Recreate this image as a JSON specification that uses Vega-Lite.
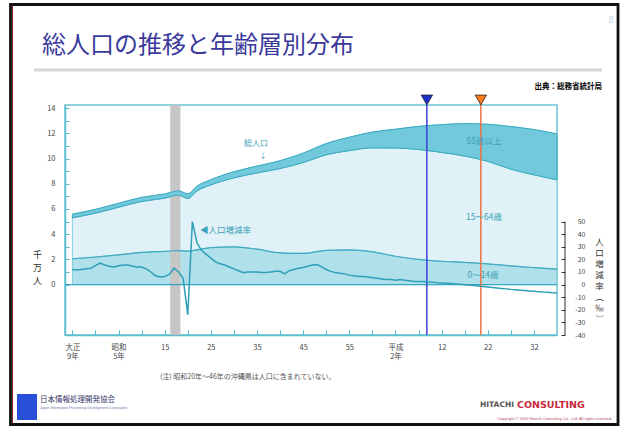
{
  "$schema": "https://vega.github.io/schema/vega-lite/v6.json",
  "width": 492,
  "height": 230,
  "autosize": {"type": "none"},
  "padding": {"left": 65, "top": 105, "right": 67, "bottom": 91},
  "background": "white",
  "config": {
    "font": "Noto Sans CJK JP",
    "view": {"stroke": "#6cc5d6", "strokeWidth": 1.5},
    "axis": {"labelOverlap": false, "labelBound": false, "zindex": 1}
  },
  "datasets": {
    "pop": [
      {"year": 1920, "group": "0～14歳", "value": 2.04}, {"year": 1920, "group": "15～64歳", "value": 3.26}, {"year": 1920, "group": "65歳以上", "value": 0.29},
      {"year": 1925, "group": "0～14歳", "value": 2.19}, {"year": 1925, "group": "15～64歳", "value": 3.48}, {"year": 1925, "group": "65歳以上", "value": 0.30},
      {"year": 1930, "group": "0～14歳", "value": 2.36}, {"year": 1930, "group": "15～64歳", "value": 3.78}, {"year": 1930, "group": "65歳以上", "value": 0.31},
      {"year": 1935, "group": "0～14歳", "value": 2.55}, {"year": 1935, "group": "15～64歳", "value": 4.05}, {"year": 1935, "group": "65歳以上", "value": 0.32},
      {"year": 1940, "group": "0～14歳", "value": 2.64}, {"year": 1940, "group": "15～64歳", "value": 4.22}, {"year": 1940, "group": "65歳以上", "value": 0.33},
      {"year": 1943, "group": "0～14歳", "value": 2.70}, {"year": 1943, "group": "15～64歳", "value": 4.40}, {"year": 1943, "group": "65歳以上", "value": 0.34},
      {"year": 1945, "group": "0～14歳", "value": 2.65}, {"year": 1945, "group": "15～64歳", "value": 4.18}, {"year": 1945, "group": "65歳以上", "value": 0.37},
      {"year": 1947, "group": "0～14歳", "value": 2.75}, {"year": 1947, "group": "15～64歳", "value": 4.68}, {"year": 1947, "group": "65歳以上", "value": 0.38},
      {"year": 1950, "group": "0～14歳", "value": 2.94}, {"year": 1950, "group": "15～64歳", "value": 4.97}, {"year": 1950, "group": "65歳以上", "value": 0.41},
      {"year": 1955, "group": "0～14歳", "value": 3.00}, {"year": 1955, "group": "15～64歳", "value": 5.47}, {"year": 1955, "group": "65歳以上", "value": 0.48},
      {"year": 1960, "group": "0～14歳", "value": 2.81}, {"year": 1960, "group": "15～64歳", "value": 6.05}, {"year": 1960, "group": "65歳以上", "value": 0.54},
      {"year": 1965, "group": "0～14歳", "value": 2.52}, {"year": 1965, "group": "15～64歳", "value": 6.69}, {"year": 1965, "group": "65歳以上", "value": 0.62},
      {"year": 1970, "group": "0～14歳", "value": 2.48}, {"year": 1970, "group": "15～64歳", "value": 7.21}, {"year": 1970, "group": "65歳以上", "value": 0.74},
      {"year": 1975, "group": "0～14歳", "value": 2.72}, {"year": 1975, "group": "15～64歳", "value": 7.58}, {"year": 1975, "group": "65歳以上", "value": 0.89},
      {"year": 1980, "group": "0～14歳", "value": 2.75}, {"year": 1980, "group": "15～64歳", "value": 7.88}, {"year": 1980, "group": "65歳以上", "value": 1.06},
      {"year": 1985, "group": "0～14歳", "value": 2.60}, {"year": 1985, "group": "15～64歳", "value": 8.25}, {"year": 1985, "group": "65歳以上", "value": 1.25},
      {"year": 1990, "group": "0～14歳", "value": 2.25}, {"year": 1990, "group": "15～64歳", "value": 8.59}, {"year": 1990, "group": "65歳以上", "value": 1.49},
      {"year": 1995, "group": "0～14歳", "value": 2.00}, {"year": 1995, "group": "15～64歳", "value": 8.72}, {"year": 1995, "group": "65歳以上", "value": 1.83},
      {"year": 2000, "group": "0～14歳", "value": 1.85}, {"year": 2000, "group": "15～64歳", "value": 8.64}, {"year": 2000, "group": "65歳以上", "value": 2.20},
      {"year": 2005, "group": "0～14歳", "value": 1.76}, {"year": 2005, "group": "15～64歳", "value": 8.44}, {"year": 2005, "group": "65歳以上", "value": 2.57},
      {"year": 2010, "group": "0～14歳", "value": 1.65}, {"year": 2010, "group": "15～64歳", "value": 8.13}, {"year": 2010, "group": "65歳以上", "value": 2.94},
      {"year": 2015, "group": "0～14歳", "value": 1.48}, {"year": 2015, "group": "15～64歳", "value": 7.68}, {"year": 2015, "group": "65歳以上", "value": 3.38},
      {"year": 2020, "group": "0～14歳", "value": 1.35}, {"year": 2020, "group": "15～64歳", "value": 7.36}, {"year": 2020, "group": "65歳以上", "value": 3.59},
      {"year": 2025, "group": "0～14歳", "value": 1.23}, {"year": 2025, "group": "15～64歳", "value": 7.08}, {"year": 2025, "group": "65歳以上", "value": 3.64}
    ],
    "rate": [
      {"year": 1920, "rate": 12}, {"year": 1921, "rate": 11.5}, {"year": 1922, "rate": 12}, {"year": 1923, "rate": 12.5}, {"year": 1924, "rate": 13},
      {"year": 1925, "rate": 15}, {"year": 1926, "rate": 17}, {"year": 1927, "rate": 15.5}, {"year": 1928, "rate": 14.5}, {"year": 1929, "rate": 14},
      {"year": 1930, "rate": 15}, {"year": 1931, "rate": 15.5}, {"year": 1932, "rate": 15.5}, {"year": 1933, "rate": 14.5}, {"year": 1934, "rate": 14},
      {"year": 1935, "rate": 14}, {"year": 1936, "rate": 12.5}, {"year": 1937, "rate": 10}, {"year": 1938, "rate": 7}, {"year": 1939, "rate": 6},
      {"year": 1940, "rate": 6.5}, {"year": 1941, "rate": 8}, {"year": 1942, "rate": 13}, {"year": 1943, "rate": 10}, {"year": 1944, "rate": 5},
      {"year": 1945, "rate": -24}, {"year": 1946, "rate": 50}, {"year": 1947, "rate": 33}, {"year": 1948, "rate": 27}, {"year": 1949, "rate": 24},
      {"year": 1950, "rate": 21}, {"year": 1951, "rate": 18}, {"year": 1952, "rate": 16.5}, {"year": 1953, "rate": 15.5}, {"year": 1954, "rate": 14},
      {"year": 1955, "rate": 12.5}, {"year": 1956, "rate": 11}, {"year": 1957, "rate": 9.5}, {"year": 1958, "rate": 10}, {"year": 1959, "rate": 10},
      {"year": 1960, "rate": 10}, {"year": 1961, "rate": 9.5}, {"year": 1962, "rate": 9.5}, {"year": 1963, "rate": 10}, {"year": 1964, "rate": 10.5},
      {"year": 1965, "rate": 10.5}, {"year": 1966, "rate": 8.5}, {"year": 1967, "rate": 11}, {"year": 1968, "rate": 12}, {"year": 1969, "rate": 13},
      {"year": 1970, "rate": 13.5}, {"year": 1971, "rate": 14.5}, {"year": 1972, "rate": 15.5}, {"year": 1973, "rate": 16}, {"year": 1974, "rate": 14},
      {"year": 1975, "rate": 12}, {"year": 1976, "rate": 10.5}, {"year": 1977, "rate": 9.5}, {"year": 1978, "rate": 9}, {"year": 1979, "rate": 8.5},
      {"year": 1980, "rate": 7.5}, {"year": 1981, "rate": 7}, {"year": 1982, "rate": 6.5}, {"year": 1983, "rate": 6.5}, {"year": 1984, "rate": 6},
      {"year": 1985, "rate": 5.5}, {"year": 1986, "rate": 5}, {"year": 1987, "rate": 4.5}, {"year": 1988, "rate": 4}, {"year": 1989, "rate": 4},
      {"year": 1990, "rate": 3.5}, {"year": 1991, "rate": 4}, {"year": 1992, "rate": 3.5}, {"year": 1993, "rate": 3}, {"year": 1994, "rate": 2.5},
      {"year": 1995, "rate": 2.5}, {"year": 1996, "rate": 2.5}, {"year": 1997, "rate": 2}, {"year": 1998, "rate": 1.8}, {"year": 1999, "rate": 1.5},
      {"year": 2000, "rate": 1.3}, {"year": 2001, "rate": 1.1}, {"year": 2002, "rate": 0.8}, {"year": 2003, "rate": 0.5}, {"year": 2004, "rate": 0.2},
      {"year": 2005, "rate": -0.1}, {"year": 2006, "rate": -0.4}, {"year": 2007, "rate": -0.7}, {"year": 2008, "rate": -1.1}, {"year": 2009, "rate": -1.5},
      {"year": 2010, "rate": -1.9}, {"year": 2011, "rate": -2.3}, {"year": 2012, "rate": -2.7}, {"year": 2013, "rate": -3.1}, {"year": 2014, "rate": -3.4},
      {"year": 2015, "rate": -3.8}, {"year": 2016, "rate": -4.1}, {"year": 2017, "rate": -4.4}, {"year": 2018, "rate": -4.7}, {"year": 2019, "rate": -5},
      {"year": 2020, "rate": -5.3}, {"year": 2021, "rate": -5.6}, {"year": 2022, "rate": -5.9}, {"year": 2023, "rate": -6.1}, {"year": 2024, "rate": -6.4},
      {"year": 2025, "rate": -6.6}
    ],
    "markers": [{"year": 1996.8, "id": "A"}, {"year": 2008.5, "id": "B"}],
    "war": [{"start": 1941.2, "end": 1943.4}]
  },
  "layer": [
    {
      "layer": [
        {
          "data": {"name": "pop"},
          "mark": {"type": "area", "interpolate": "monotone", "stroke": "#6cc5d6", "strokeWidth": 0.8},
          "encoding": {
            "x": {
              "field": "year", "type": "quantitative",
              "scale": {"domain": [1918.4, 2025], "nice": false, "zero": false},
              "axis": {
                "title": null,
                "values": [1920, 1925, 1930, 1935, 1940, 1945, 1950, 1955, 1960, 1965, 1970, 1975, 1980, 1985, 1990, 1995, 2000.001, 2005, 2010, 2015, 2020],
                "tickCount": 200,
                "labelExpr": "round(datum.value) == 1920 ? ['大正','9年'] : round(datum.value) == 1930 ? ['昭和','5年'] : round(datum.value) == 1940 ? '15' : round(datum.value) == 1950 ? '25' : round(datum.value) == 1960 ? '35' : round(datum.value) == 1970 ? '45' : round(datum.value) == 1980 ? '55' : round(datum.value) == 1990 ? ['平成','2年'] : round(datum.value) == 2000 ? '12' : round(datum.value) == 2010 ? '22' : round(datum.value) == 2020 ? '32' : ''",
                "labelFontSize": 7.5, "labelColor": "#444444", "labelLineHeight": 9.5, "labelPadding": 13, "labelBaseline": "top",
                "tickSize": -5, "tickColor": "#5bbdd0", "domainColor": "#5bbdd0", "domainWidth": 1.5,
                "grid": false, "labelOverlap": false, "labelFlush": false
              }
            },
            "y": {
              "field": "value", "type": "quantitative", "stack": "zero",
              "scale": {"domain": [-4, 14.25], "nice": false, "zero": false},
              "axis": {
                "title": ["千", "万", "人"],
                "values": [0, 1, 2, 3, 4, 5, 6, 7, 8, 9, 10, 11, 12, 13, 14],
                "tickCount": 200,
                "labelExpr": "datum.value % 2 == 0 ? '' + datum.value : ''",
                "tickSize": -4, "labelPadding": 14, "labelFontSize": 7.5, "labelColor": "#444444",
                "tickColor": "#5bbdd0", "domainColor": "#5bbdd0", "domainWidth": 1.5, "grid": false,
                "labelOverlap": false,
                "titleAngle": 0, "titleX": -28, "titleY": 145, "titleAlign": "center", "titleBaseline": "top",
                "titleFontSize": 9, "titleLineHeight": 13.3, "titleColor": "#333333", "titleFontWeight": "normal"
              }
            },
            "color": {
              "field": "group", "type": "nominal",
              "scale": {"domain": ["0～14歳", "15～64歳", "65歳以上"], "range": ["#b0e0ea", "#e0f2f7", "#77cbdc"]},
              "legend": null
            },
            "order": {"field": "group", "sort": "ascending"}
          }
        },
        {
          "data": {"name": "war"},
          "mark": {"type": "rect", "color": "#c6c6c6"},
          "encoding": {
            "x": {"field": "start", "type": "quantitative"},
            "x2": {"field": "end"}
          }
        },
        {
          "data": {"name": "pop"},
          "transform": [
            {"stack": "value", "groupby": ["year"], "sort": [{"field": "group", "order": "ascending"}], "as": ["lo", "hi"]},
            {"filter": "datum.group == '65歳以上'"}
          ],
          "mark": {"type": "area", "interpolate": "monotone", "fill": "#72c9db", "stroke": "#3aaac2", "strokeWidth": 1},
          "encoding": {
            "x": {"field": "year", "type": "quantitative"},
            "y": {"field": "lo", "type": "quantitative"},
            "y2": {"field": "hi"}
          }
        },
        {
          "data": {"name": "pop"},
          "transform": [{"filter": "datum.group == '0～14歳'"}],
          "mark": {"type": "line", "interpolate": "monotone", "color": "#3faac2", "strokeWidth": 1.2},
          "encoding": {
            "x": {"field": "year", "type": "quantitative"},
            "y": {"field": "value", "type": "quantitative"}
          }
        },
        {
          "data": {"values": [{}]},
          "mark": {"type": "rule", "color": "#39a7bf", "strokeWidth": 1.3},
          "encoding": {"y": {"datum": 0}}
        },
        {
          "data": {"values": [{}]},
          "mark": {"type": "rule", "color": "#333333", "strokeWidth": 1},
          "encoding": {"x": {"datum": 2026.73}, "y": {"datum": -4}, "y2": {"datum": 5}}
        },
        {
          "data": {"name": "markers"},
          "mark": {"type": "rule", "strokeWidth": 1.5},
          "encoding": {
            "x": {"field": "year", "type": "quantitative"},
            "stroke": {"field": "id", "type": "nominal", "scale": {"domain": ["A", "B"], "range": ["#4040d8", "#f07040"]}, "legend": null}
          }
        },
        {
          "data": {"name": "markers"},
          "mark": {"type": "point", "shape": "triangle-down", "size": 130, "filled": true, "stroke": "#222222", "strokeWidth": 0.8, "opacity": 1},
          "encoding": {
            "x": {"field": "year", "type": "quantitative"},
            "y": {"datum": 14.647},
            "fill": {"field": "id", "type": "nominal", "scale": {"domain": ["A", "B"], "range": ["#1a32c8", "#ff7b1c"]}, "legend": null}
          }
        },
        {
          "data": {"values": [{}]},
          "mark": {"type": "text", "text": "総人口", "fontSize": 8, "color": "#3a9fb8", "align": "center", "baseline": "middle"},
          "encoding": {"x": {"datum": 1959.78}, "y": {"datum": 11.155}}
        },
        {
          "data": {"values": [{}]},
          "mark": {"type": "text", "text": "↓", "fontSize": 7, "color": "#3a9fb8", "align": "center", "baseline": "middle"},
          "encoding": {"x": {"datum": 1961.3}, "y": {"datum": 10.2}}
        },
        {
          "data": {"values": [{}]},
          "mark": {"type": "text", "text": "◀人口増減率", "fontSize": 8.5, "color": "#3a9fb8", "align": "left", "baseline": "middle"},
          "encoding": {"x": {"datum": 1947.65}, "y": {"datum": 4.33}}
        },
        {
          "data": {"values": [{}]},
          "mark": {"type": "text", "text": "65歳以上", "fontSize": 8.5, "color": "#3a9fb8", "align": "center", "baseline": "middle"},
          "encoding": {"x": {"datum": 2009.18}, "y": {"datum": 11.39}}
        },
        {
          "data": {"values": [{}]},
          "mark": {"type": "text", "text": "15～64歳", "fontSize": 8.5, "color": "#3a9fb8", "align": "center", "baseline": "middle"},
          "encoding": {"x": {"datum": 2009.18}, "y": {"datum": 5.363}}
        },
        {
          "data": {"values": [{}]},
          "mark": {"type": "text", "text": "0～14歳", "fontSize": 8.5, "color": "#3a9fb8", "align": "center", "baseline": "middle"},
          "encoding": {"x": {"datum": 2008.97}, "y": {"datum": 0.761}}
        },
        {
          "data": {"values": [{}]},
          "mark": {"type": "text", "text": "総人口の推移と年齢層別分布", "fontSize": 24, "color": "#3a3a9c", "align": "left", "baseline": "alphabetic"},
          "encoding": {"x": {"datum": 1913.42}, "y": {"datum": 18.376}}
        },
        {
          "data": {"values": [{}]},
          "mark": {"type": "text", "text": "8", "fontSize": 9, "color": "#bcd8f0", "align": "center", "baseline": "middle"},
          "encoding": {"x": {"datum": 2036.7}, "y": {"datum": 20.99}}
        },
        {
          "data": {"values": [{}]},
          "mark": {"type": "rule", "color": "#d6d6d6", "strokeWidth": 3},
          "encoding": {"x": {"datum": 1911.68}, "x2": {"datum": 2034.75}, "y": {"datum": 17.027}}
        },
        {
          "data": {"values": [{}]},
          "mark": {"type": "text", "text": "出典：総務省統計局", "fontSize": 7.5, "fontWeight": "bold", "color": "#000000", "align": "right", "baseline": "middle"},
          "encoding": {"x": {"datum": 2034.75}, "y": {"datum": 15.68}}
        },
        {
          "data": {"values": [{}]},
          "mark": {"type": "text", "text": "(注) 昭和20年～46年の沖縄県は人口に含まれていない。", "fontSize": 7, "color": "#555555", "align": "left", "baseline": "middle"},
          "encoding": {"x": {"datum": 1938.98}, "y": {"datum": -7.33}}
        },
        {
          "data": {"values": [{}]},
          "mark": {"type": "rect", "color": "#2a4fd8"},
          "encoding": {"x": {"datum": 1908.0}, "x2": {"datum": 1912.33}, "y": {"datum": -8.681}, "y2": {"datum": -10.744}}
        },
        {
          "data": {"values": [{}]},
          "mark": {"type": "text", "text": "日本情報処理開発協会", "fontSize": 7.5, "color": "#333366", "align": "left", "baseline": "middle"},
          "encoding": {"x": {"datum": 1912.98}, "y": {"datum": -9.157}}
        },
        {
          "data": {"values": [{}]},
          "mark": {"type": "text", "text": "Japan Information Processing Development Corporation", "font": "Liberation Sans", "fontSize": 3.5, "color": "#6677aa", "align": "left", "baseline": "middle"},
          "encoding": {"x": {"datum": 1912.98}, "y": {"datum": -9.792}}
        },
        {
          "data": {"values": [{}]},
          "mark": {"type": "text", "text": "HITACHI", "font": "DejaVu Sans", "fontSize": 7.5, "fontWeight": "bold", "color": "#555555", "align": "left", "baseline": "middle"},
          "encoding": {"x": {"datum": 2008.32}, "y": {"datum": -9.554}}
        },
        {
          "data": {"values": [{}]},
          "mark": {"type": "text", "text": "CONSULTING", "font": "DejaVu Sans", "fontSize": 9.5, "fontWeight": "bold", "color": "#c8283e", "align": "left", "baseline": "middle"},
          "encoding": {"x": {"datum": 2016.33}, "y": {"datum": -9.554}}
        },
        {
          "data": {"values": [{}]},
          "mark": {"type": "text", "text": "Copyright © 2009 Hitachi Consulting Co., Ltd. All rights reserved.", "font": "Liberation Sans", "fontSize": 4, "color": "#b05060", "align": "right", "baseline": "middle"},
          "encoding": {"x": {"datum": 2036.92}, "y": {"datum": -10.665}}
        },
        {
          "data": {"values": [{}]},
          "mark": {"type": "rule", "color": "#8a1a28", "strokeWidth": 1},
          "encoding": {"x": {"datum": 1907.03}, "y": {"datum": 22.224}, "y2": {"datum": -11.101}}
        },
        {
          "data": {"values": [{}]},
          "mark": {"type": "rect", "fill": "transparent", "stroke": "#111111", "strokeWidth": 2.8},
          "encoding": {"x": {"datum": 1906.59}, "x2": {"datum": 2038.22}, "y": {"datum": 22.224}, "y2": {"datum": -11.101}}
        }
      ]
    },
    {
      "data": {"name": "rate"},
      "mark": {"type": "line", "color": "#2f9fb8", "strokeWidth": 1.5},
      "encoding": {
        "x": {"field": "year", "type": "quantitative"},
        "y": {
          "field": "rate", "type": "quantitative",
          "scale": {"domain": [-40, 142.5], "nice": false, "zero": false},
          "axis": {
            "orient": "right", "offset": 8,
            "values": [-40, -30, -20, -10, 0, 10, 20, 30, 40, 50],
            "tickCount": 200,
            "labelExpr": "'' + datum.value",
            "domain": false, "tickSize": -4, "tickColor": "#333333",
            "labelPadding": 24, "labelAlign": "right", "labelFontSize": 7, "labelColor": "#444444", "grid": false, "labelOverlap": false,
            "title": ["人", "口", "増", "減", "率", "︵", "‰", "︶"],
            "titleAngle": 0, "titleX": 34, "titleY": 132, "titleAlign": "center", "titleBaseline": "top",
            "titleFontSize": 8.5, "titleLineHeight": 11, "titleColor": "#333333", "titleFontWeight": "normal"
          }
        }
      }
    }
  ],
  "resolve": {"scale": {"y": "independent"}, "axis": {"y": "independent"}}
}
